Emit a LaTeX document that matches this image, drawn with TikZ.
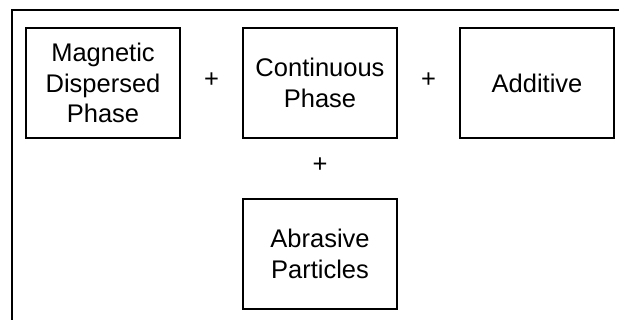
\documentclass[tikz,border=0pt]{standalone}
\usepackage{fontspec}
\setmainfont{Liberation Sans}
\usetikzlibrary{positioning}

\tikzset{
  partbox/.style={draw, line width=2pt, minimum width=154pt, minimum height=110pt,
    inner sep=0pt, align=center, font=\fontsize{25.5}{30.5}\selectfont},
  plussign/.style={inner sep=0pt, font=\fontsize{25.5}{30.5}\selectfont}
}

\begin{document}
\begin{tikzpicture}[x=1pt,y=-1pt]
  \useasboundingbox (0,0) rectangle (619,320);
  % frame round the mixture, open to the right and below
  \draw [line width=2.5pt] (12,320) -- (12,10) -- (619,10);

  \node[partbox] (magnetic) at (103,83) {Magnetic\\Dispersed\\Phase};
  \node[partbox, right=61pt of magnetic] (continuous) {Continuous\\Phase};
  \node[partbox, right=61pt of continuous] (additive) {Additive};
  \node[partbox, below=59pt of continuous] (abrasive) {Abrasive\\Particles};

  \node[plussign] (plusa) at (211.5,80) {+};
  \node[plussign] (plusb) at (428.5,80) {+};
  \node[plussign] (plusc) at (320,165) {+};
\end{tikzpicture}
\end{document}
